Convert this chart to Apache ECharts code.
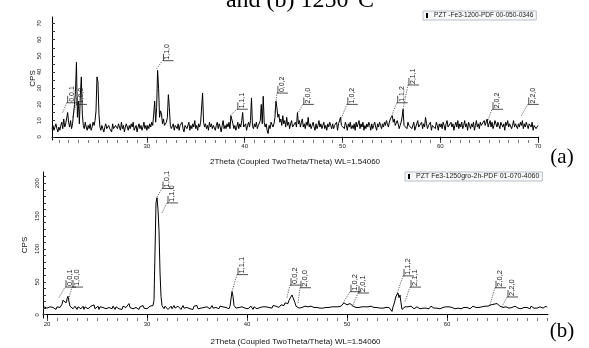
<!DOCTYPE html>
<html>
<head>
<meta charset="utf-8">
<script src="https://cdn.jsdelivr.net/npm/echarts@6/dist/echarts.min.js"></script>
<style>
  html, body { margin: 0; padding: 0; background: #fff; }
  #chart { width: 589px; height: 348px; }
</style>
</head>
<body>
<div id="chart"></div>
<script>
// 2Theta scan step (degrees) and scan starts
const thetaStep = 0.1;
const thetaStartA = 20.3;
const thetaStartB = 19.7;

// (a) 1200 C, counts per second, one value per 0.1 deg
const cpsA = [
  5,7,4,6,8,5,3,
  6,4,7,9,5,11,6,8,7,15,
  9,6,10,5,8,7,20,28,46,12,
  22,8,26,37,14,7,5,9,6,4,
  7,5,8,4,6,9,7,10,16,37,
  34,14,6,4,7,5,3,6,8,5,
  4,7,5,6,3,8,5,4,7,6,
  5,8,6,4,9,5,7,3,6,8,
  6,4,7,5,8,6,9,4,5,7,
  3,6,8,5,7,4,6,9,5,7,
  4,7,5,8,6,9,7,14,22,9,
  18,41,30,12,16,14,8,11,7,6,
  9,12,26,18,7,5,6,8,4,7,
  6,5,8,4,7,6,9,5,3,7,
  8,5,6,9,4,7,5,8,6,10,
  5,7,4,8,6,9,10,27,9,6,
  8,5,7,4,9,6,8,5,7,6,
  4,7,9,5,8,6,3,7,10,5,
  7,5,8,6,9,5,13,14,8,5,
  7,4,6,9,5,8,6,10,15,6,
  5,8,4,7,9,6,10,24,7,5,
  8,6,9,5,7,6,10,20,8,25,
  9,6,8,4,2,7,5,9,10,6,
  8,12,22,18,12,14,9,11,7,13,
  8,10,6,12,7,9,5,8,10,6,
  7,5,9,6,15,8,10,6,9,11,
  6,8,5,9,7,12,6,8,5,7,
  9,6,4,8,5,7,10,6,8,5,
  6,9,5,7,4,8,6,9,7,5,
  8,5,7,6,9,4,8,10,12,7,
  6,8,5,9,7,4,8,6,9,5,
  7,5,8,4,9,6,7,10,5,8,
  6,9,4,7,5,8,6,9,7,4,
  8,5,7,9,6,4,8,6,9,7,
  5,8,6,9,7,10,8,6,9,11,
  12,13,9,11,7,6,10,8,5,7,
  9,12,17,7,6,8,5,9,7,6,
  8,5,7,9,4,6,8,10,6,5,
  7,9,5,8,6,12,8,5,7,6,
  9,4,7,6,8,5,9,7,4,8,
  6,8,5,9,7,4,8,10,6,7,
  5,9,6,8,4,7,9,6,10,5,
  8,6,9,5,7,10,6,8,4,9,
  7,5,8,6,9,4,7,10,6,8,
  5,9,7,6,8,10,7,9,11,6,
  8,10,6,9,5,7,10,8,6,9,
  7,5,9,10,6,8,4,9,7,10,
  6,8,9,5,7,10,6,8,9,5,
  8,6,9,7,10,5,8,6,9,7,
  5,8,7,6,9,4,7,8,5,6,
  7
];

// (b) 1250 C
const cpsB = [
  12,9,14,
  10,13,8,12,15,9,11,14,10,8,
  12,9,14,11,12,16,22,25,21,18,
  24,28,20,13,10,12,9,11,13,10,
  8,12,10,14,9,11,13,8,12,10,
  14,9,11,8,13,10,12,15,9,11,
  10,13,8,12,9,14,11,10,13,9,
  12,8,11,14,10,9,13,11,8,12,
  10,14,9,12,11,8,13,10,15,11,
  9,12,17,11,10,13,9,12,8,11,
  13,10,8,12,11,9,14,10,12,11,
  9,12,10,13,11,15,14,22,95,170,
  178,160,128,65,28,14,11,9,13,10,
  12,8,11,10,13,9,12,14,10,11,
  9,13,10,12,8,11,14,10,12,9,
  11,10,13,9,12,11,8,13,10,12,
  14,9,11,12,10,13,9,11,12,10,
  12,10,13,9,11,14,10,12,9,11,
  10,12,9,13,11,10,12,14,9,11,
  12,10,9,13,16,35,28,14,11,10,
  12,9,11,13,10,12,9,11,10,13,
  11,9,12,10,13,11,8,12,10,11,
  9,12,10,11,13,9,12,10,11,12,
  10,13,11,9,12,10,14,11,12,13,
  12,14,11,13,15,12,16,14,18,17,
  20,17,22,19,24,30,26,28,18,13,
  11,12,10,13,9,11,12,10,13,11,
  10,12,9,11,13,10,12,11,9,12,
  11,9,12,10,13,11,10,12,9,11,
  12,10,11,13,9,12,10,11,12,10,
  9,12,10,11,13,12,14,18,16,17,
  15,18,16,17,14,16,13,15,12,11,
  12,10,11,13,9,12,11,10,12,11,
  10,12,9,11,13,10,12,11,10,12,
  11,9,12,10,11,13,10,12,9,11,
  12,10,11,9,13,5,12,16,22,28,
  25,33,26,30,18,8,5,10,12,11,
  10,12,9,11,13,10,12,9,11,10,
  12,10,13,9,11,12,10,11,13,10,
  11,12,9,10,13,11,12,10,9,12,
  10,13,11,9,12,10,11,13,10,12,
  11,9,12,10,13,11,10,12,9,11,
  12,10,11,13,9,12,10,11,12,10,
  11,13,10,9,12,11,13,10,12,11,
  10,12,11,13,10,12,11,9,13,12,
  11,13,12,14,15,13,17,16,18,15,
  17,14,16,13,15,12,11,13,10,12,
  11,12,10,13,9,11,12,10,13,11,
  12,10,11,13,9,12,10,11,13,10,
  11,12,10,9,13,11,12,10,11,12,
  10,13,11,12,9,11,10,12,11,13,
  11
];

// hkl tags: peak point [2theta, cps] and tag foot [2theta, cps]
const hklA = ["0,0,1", "1,0,0", "1,1,0", "1,1,1", "0,0,2", "2,0,0", "1,0,2", "1,1,2", "2,1,1", "2,0,2", "2,2,0"];
const peakA = [[21.4, 15], [22.4, 12], [31.0, 42], [38.5, 13], [43.1, 15], [45.4, 14], [49.8, 10], [55.05, 13], [56.2, 17], [64.8, 9], [68.3, 13]];
const tagA = [[21.8, 21], [22.75, 20], [31.6, 47], [39.2, 17], [43.3, 27], [45.95, 20], [50.45, 20], [55.55, 21], [56.7, 32], [65.3, 17], [68.95, 20]];

const hklB = ["0,0,1", "1,0,0", "1,0,1", "1,1,0", "1,1,1", "0,0,2", "2,0,0", "1,0,2", "2,0,1", "1,1,2", "2,1,1", "2,0,2", "2,2,0"];
const peakB = [[21.2, 26], [22.1, 20], [31.0, 179], [31.5, 155], [38.5, 35], [44.0, 26], [45.1, 18], [49.6, 18], [50.6, 15], [54.8, 23], [55.8, 20], [64.3, 15], [65.5, 12]];
const tagB = [[21.8, 42], [22.5, 42], [31.5, 192], [32.0, 170], [39.0, 61], [44.3, 45], [45.3, 41], [50.3, 35], [51.1, 33], [55.6, 59], [56.3, 42], [64.8, 41], [66.0, 27]];

// tick labels
const xLabelsA = [30, 40, 50, 60, 70];
const xLabelsB = [20, 30, 40, 50, 60];
const yLabelsA = [0, 10, 20, 30, 40, 50, 60, 70];
const yLabelsB = [0, 50, 100, 150, 200];
const yMinorA = [0, 5, 10, 15, 20, 25, 30, 35, 40, 45, 50, 55, 60, 65, 70];
const yMinorB = [0, 10, 20, 30, 40, 50, 60, 70, 80, 90, 100, 110, 120, 130, 140, 150, 160, 170, 180, 190, 200, 210];
const degreeTicks = Array.from({ length: 51 }, (_, i) => 20 + i);

const legendA = "PZT -Fe3-1200-PDF 00-050-0346";
const legendB = "PZT Fe3-1250gro-2h-PDF 01-070-4060";
const xTitle = "2Theta (Coupled TwoTheta/Theta) WL=1.54060";

const SANS = "Liberation Sans";
const SERIF = "Liberation Serif";

function scan(values, start) {
  return values.map((v, i) => [Math.round((start + i * thetaStep) * 100) / 100, v]);
}

function tagRows(peaks, tags) {
  return peaks.map((p, i) => [p[0], p[1], tags[i][0], tags[i][1]]);
}

function tagRenderer(names, fontSize) {
  return function (params, api) {
    const p = api.coord([api.value(0), api.value(1)]);
    const t = api.coord([api.value(2), api.value(3)]);
    const ink = "#222";
    return {
      type: "group",
      children: [
        {
          type: "line",
          shape: { x1: p[0], y1: p[1], x2: t[0], y2: t[1] },
          style: { stroke: ink, lineWidth: 0.7, lineDash: [1.2, 1.2] },
        },
        {
          type: "line",
          shape: { x1: t[0], y1: t[1], x2: t[0] + 11, y2: t[1] },
          style: { stroke: ink, lineWidth: 0.8 },
        },
        {
          type: "line",
          shape: { x1: t[0] + 1, y1: t[1], x2: t[0] + 1, y2: t[1] - 7 },
          style: { stroke: ink, lineWidth: 0.8 },
        },
        {
          type: "text",
          x: t[0] + 5,
          y: t[1] - 1,
          rotation: Math.PI / 2,
          style: {
            text: names[params.dataIndex],
            font: fontSize + "px " + SANS,
            fill: ink,
            align: "left",
            verticalAlign: "middle",
          },
        },
      ],
    };
  };
}

function mainX(grid, min, max, labels, gap) {
  return {
    type: "value",
    gridIndex: grid,
    position: "bottom",
    min: min,
    max: max,
    axisLine: { lineStyle: { color: "#000", width: 1 } },
    axisTick: { customValues: labels, length: 6, lineStyle: { color: "#000" } },
    axisLabel: { customValues: labels, fontSize: 6, color: "#222", margin: 3, fontFamily: SANS },
    splitLine: { show: false },
    name: xTitle,
    nameLocation: "middle",
    nameGap: gap,
    nameTextStyle: { fontSize: 8, color: "#111", fontFamily: SANS },
  };
}

function minorX(grid, min, max) {
  return {
    type: "value",
    gridIndex: grid,
    position: "bottom",
    min: min,
    max: max,
    axisLine: { show: false },
    axisTick: { customValues: degreeTicks, length: 3, lineStyle: { color: "#555", width: 0.8 } },
    axisLabel: { show: false },
    splitLine: { show: false },
  };
}

function mainY(grid, min, max, labels, minor, margin, gap) {
  return {
    type: "value",
    gridIndex: grid,
    min: min,
    max: max,
    axisLine: { show: true, lineStyle: { color: "#000", width: 1 } },
    axisTick: { show: true, inside: true, customValues: minor, length: 3, lineStyle: { color: "#333" } },
    axisLabel: { customValues: labels, rotate: 90, fontSize: 6, color: "#222", margin: margin, fontFamily: SANS },
    splitLine: { show: false },
    name: "CPS",
    nameLocation: "middle",
    nameRotate: 90,
    nameGap: gap,
    nameMoveOverlap: false,
    nameTextStyle: { fontSize: 8, color: "#111", fontFamily: SANS },
  };
}

function legendBox(name, left, top, size) {
  return {
    data: [name],
    left: left,
    top: top,
    orient: "horizontal",
    icon: "rect",
    itemWidth: 2,
    itemHeight: 5,
    itemGap: 0,
    padding: [1, 3, 1, 3],
    borderColor: "#b8c0c8",
    borderWidth: 1,
    backgroundColor: "#f7f8fa",
    selectedMode: false,
    textStyle: { fontSize: size, color: "#222", fontFamily: SANS, padding: [0, 0, 0, 1] },
  };
}

const chart = echarts.init(document.getElementById("chart"));

chart.setOption({
  animation: false,
  backgroundColor: "#fff",
  textStyle: { fontFamily: SANS },
  graphic: [
    { type: "text", x: 300, y: 1, style: { text: "and (b) 1250°C", font: "24px " + SERIF, fill: "#000", align: "center", verticalAlign: "middle" } },
    { type: "text", x: 562, y: 157, style: { text: "(a)", font: "21px " + SERIF, fill: "#000", align: "center", verticalAlign: "middle" } },
    { type: "text", x: 562, y: 331, style: { text: "(b)", font: "21px " + SERIF, fill: "#000", align: "center", verticalAlign: "middle" } },
  ],
  legend: [legendBox(legendA, 423, 11, 6.6), legendBox(legendB, 405, 172, 7)],
  grid: [
    { left: 52, top: 17, width: 486, height: 123 },
    { left: 43, top: 172, width: 505, height: 146 },
  ],
  xAxis: [
    mainX(0, 20.3, 70, xLabelsA, 18),
    minorX(0, 20.3, 70),
    mainX(1, 19.6, 70.1, xLabelsB, 20),
    minorX(1, 19.6, 70.1),
  ],
  yAxis: [
    mainY(0, -2, 74, yLabelsA, yMinorA, 10, 15),
    mainY(1, -5, 217, yLabelsB, yMinorB, 3, 14),
  ],
  series: [
    {
      name: legendA,
      type: "line",
      xAxisIndex: 0,
      yAxisIndex: 0,
      data: scan(cpsA, thetaStartA),
      showSymbol: false,
      lineStyle: { color: "#000", width: 1 },
      itemStyle: { color: "#000" },
    },
    {
      name: "tags-a",
      type: "custom",
      xAxisIndex: 0,
      yAxisIndex: 0,
      data: tagRows(peakA, tagA),
      encode: { x: [0, 2], y: [1, 3] },
      renderItem: tagRenderer(hklA, 7),
      clip: false,
      z: 5,
    },
    {
      name: legendB,
      type: "line",
      xAxisIndex: 2,
      yAxisIndex: 1,
      data: scan(cpsB, thetaStartB),
      showSymbol: false,
      lineStyle: { color: "#000", width: 1 },
      itemStyle: { color: "#000" },
    },
    {
      name: "tags-b",
      type: "custom",
      xAxisIndex: 2,
      yAxisIndex: 1,
      data: tagRows(peakB, tagB),
      encode: { x: [0, 2], y: [1, 3] },
      renderItem: tagRenderer(hklB, 7.5),
      clip: false,
      z: 5,
    },
  ],
});
</script>
</body>
</html>
